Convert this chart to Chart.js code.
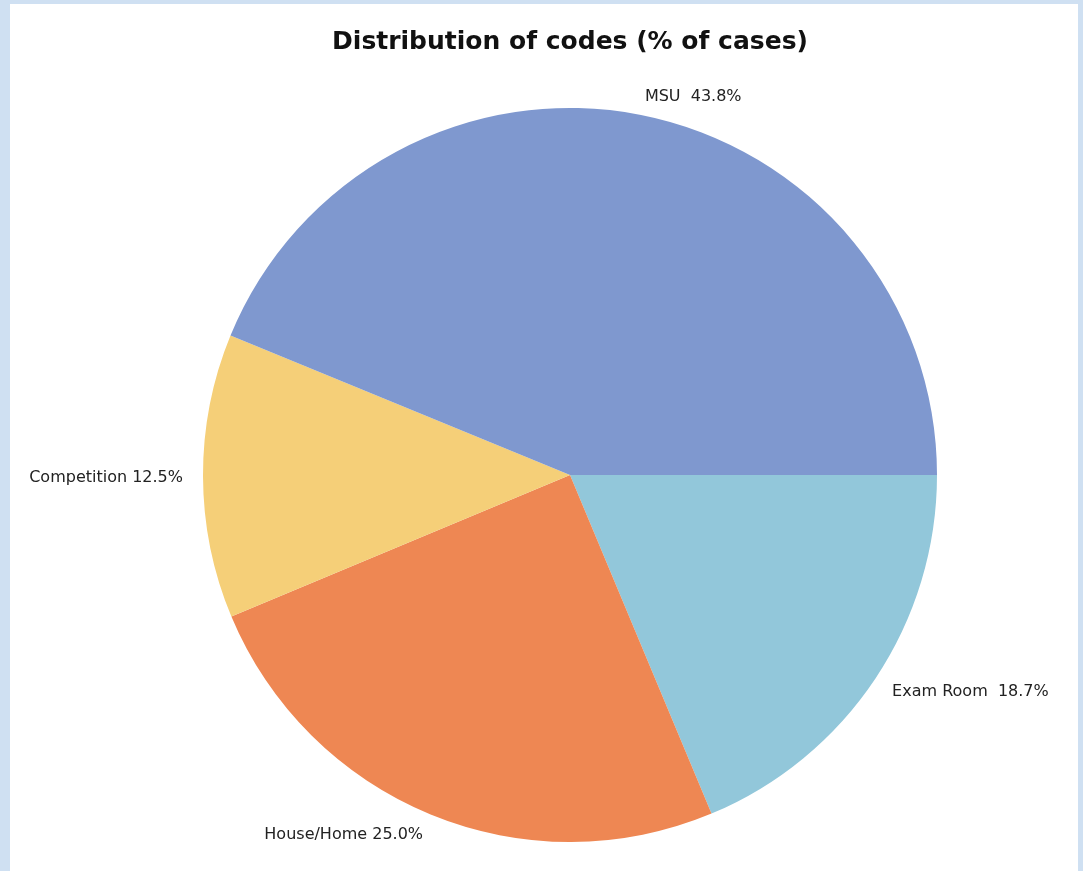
<!DOCTYPE html>
<html>
<head>
<meta charset="utf-8">
<script src="https://cdn.jsdelivr.net/npm/chart.js@4"></script>
<style>
  html, body { margin: 0; padding: 0; }
  body { width: 1083px; height: 871px; background: #cfe0f2; position: relative; overflow: hidden; }
  #panel { position: absolute; left: 10px; top: 4px; width: 1068px; height: 867px; background: #fff; }
  #wrap { position: absolute; left: 0; top: 0; width: 1083px; height: 871px; }
</style>
</head>
<body>
<div id="panel"></div>
<div id="wrap"><canvas id="pieChart" width="1083" height="871"></canvas></div>
<script>
// slices in clockwise order starting at 3 o'clock
const categories = ['Exam Room', 'House/Home', 'Competition', 'MSU'];
const shares = [18.7, 25.0, 12.5, 43.8];
const labelGaps = ['  ', ' ', ' ', '  '];
const sliceColors = ['#92c7da', '#ee8753', '#f5cf78', '#7f98cf'];

const outsideLabels = {
    id: 'outsideLabels',
    afterDatasetsDraw(chart) {
        const ctx = chart.ctx;
        const arcs = chart.getDatasetMeta(0).data;
        ctx.save();
        ctx.font = '16px "DejaVu Sans", Verdana, sans-serif';
        ctx.fillStyle = '#222';
        ctx.textBaseline = 'middle';
        arcs.forEach((arc, i) => {
            const mid = (arc.startAngle + arc.endAngle) / 2;
            const r = arc.outerRadius + 20;
            const x = arc.x + Math.cos(mid) * r;
            const y = arc.y + Math.sin(mid) * r + 2;
            ctx.textAlign = Math.cos(mid) >= 0 ? 'left' : 'right';
            const txt = categories[i] + labelGaps[i] + shares[i].toFixed(1) + '%';
            ctx.fillText(txt, x, y);
        });
        ctx.restore();
    }
};

new Chart(document.getElementById('pieChart'), {
    type: 'pie',
    data: {
        labels: categories,
        datasets: [{
            data: shares,
            backgroundColor: sliceColors,
            borderWidth: 0
        }]
    },
    options: {
        responsive: false,
        animation: false,
        rotation: 90,
        layout: {
            padding: { left: 203, right: 146, top: 0, bottom: 29 }
        },
        plugins: {
            legend: { display: false },
            tooltip: { enabled: false },
            title: {
                display: true,
                text: 'Distribution of codes (% of cases)',
                color: '#111',
                font: { family: '"DejaVu Sans", Verdana, sans-serif', size: 25, weight: 'bold' },
                padding: { top: 27, bottom: 51 }
            }
        }
    },
    plugins: [outsideLabels]
});
</script>
</body>
</html>
